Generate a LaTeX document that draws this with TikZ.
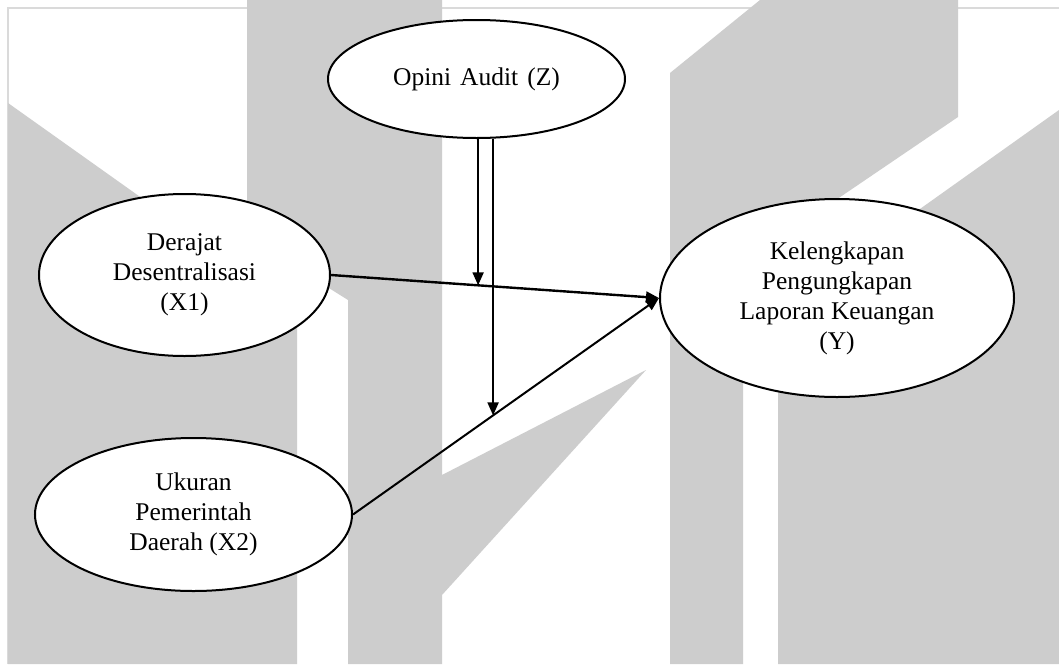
\documentclass[tikz,border=0pt]{standalone}
\usepackage{fontspec}
\setmainfont{Liberation Serif}
\usetikzlibrary{shapes.geometric,arrows.meta,calc}
\definecolor{wm}{HTML}{CDCDCD}
\definecolor{frameline}{HTML}{DADADA}
\begin{document}
\begin{tikzpicture}[x=1pt,y=-1pt,
  var/.style={ellipse,draw=black,line width=2pt,fill=white,inner sep=0pt,align=center,font=\fontsize{25.5}{30}\selectfont},
  arr/.style={-{Triangle[length=13pt,width=11pt]},line width=2pt},
  thickarr/.style={arr,line width=2.4pt}]
\useasboundingbox (0,0) rectangle (1059,664);
\fill[white] (0,0) rectangle (1059,664);
% watermark
\draw[frameline,line width=2pt] (8,664) -- (8,8) -- (1059,8);
\fill[wm] (8,103) -- (250,275) -- (297,268) -- (297,664) -- (8,664) -- cycle;
\fill[wm] (247,0) -- (442,0) -- (442,475) -- (646,370) -- (442,595) -- (442,664) -- (348,664) -- (348,300) -- (297,268) -- (247,268) -- cycle;
\fill[wm] (670,73) -- (760,0) -- (958,0) -- (958,117) -- (743,263) -- (743,664) -- (670,664) -- cycle;
\fill[wm] (1059,110) -- (778,310) -- (778,664) -- (1059,664) -- cycle;
% nodes
\node[var,minimum width=297pt,minimum height=118pt] (z) at (476.5,79) {Opini\hspace{9pt}Audit\hspace{9pt}(Z)};
\node[var,minimum width=291pt,minimum height=162pt] (x1) at (184.5,275) {Derajat\\Desentralisasi\\(X1)};
\node[var,minimum width=317pt,minimum height=153pt] (x2) at (193.5,514.5) {Ukuran\\Pemerintah\\Daerah (X2)};
\node[var,minimum width=354pt,minimum height=198pt] (y) at (837,298) {Kelengkapan\\Pengungkapan\\Laporan Keuangan\\(Y)};
% connectors
\draw[thickarr] (x1.east) -- (y.west);
\draw[arr] (x2.east) -- (y.west);
\coordinate (m1) at ($(x1.east)!0.4485!(y.west)$);
\coordinate (m2) at ($(x2.east)!0.4578!(y.west)$);
\draw[arr] (z.south -| m1) -- (m1);
\draw[arr] (z.south -| m2) -- (m2);
\end{tikzpicture}
\end{document}
